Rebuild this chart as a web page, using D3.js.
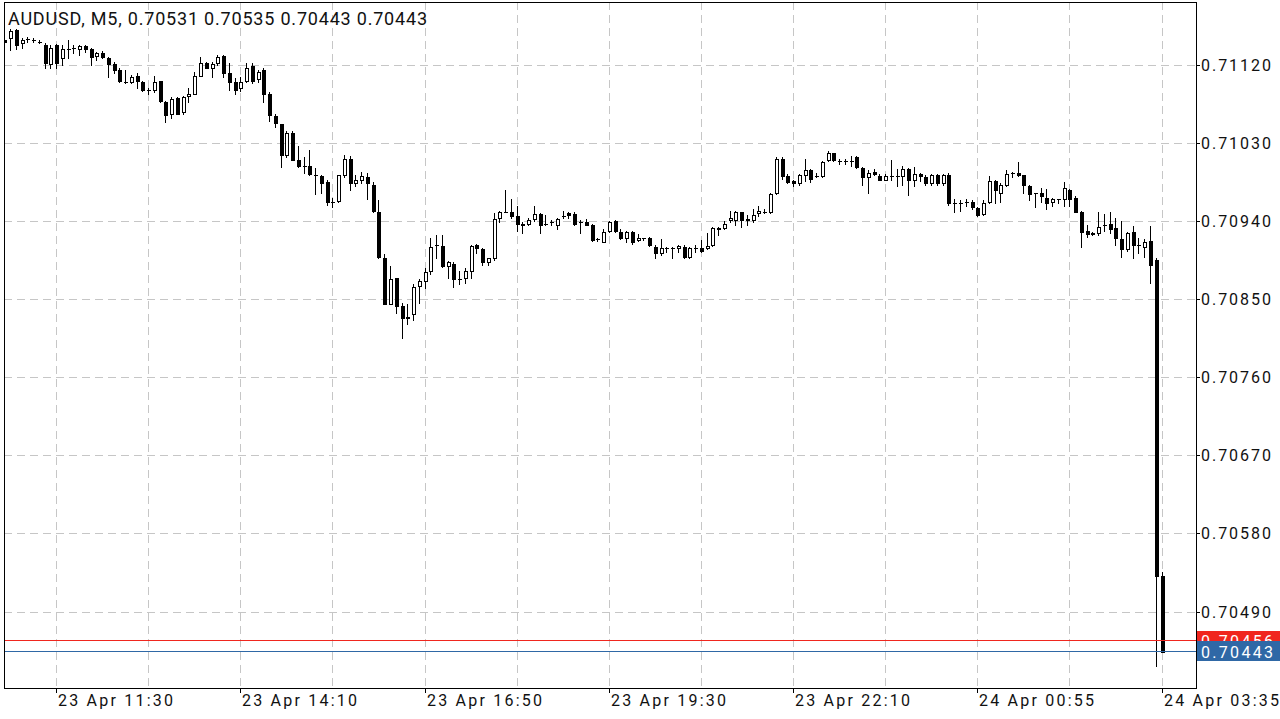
<!DOCTYPE html>
<html><head><meta charset="utf-8">
<script src="https://cdn.jsdelivr.net/npm/d3@7"></script>
<style>
html,body{margin:0;padding:0;background:#fff;}
svg{display:block;font-family:Roboto,"Noto Sans",sans-serif;}
</style>
</head><body>
<svg id="chart" width="1280" height="719"></svg>
<script>
// ---- data (M5 candles, AUDUSD) ----
const titleText = "AUDUSD, M5, 0.70531 0.70535 0.70443 0.70443";
const open = [
0.71149,0.71151,0.71160,0.71145,0.71150,0.71149,0.71147,0.71143,0.71121,0.71143,
0.71128,0.71139,0.71140,0.71138,0.71142,0.71139,0.71130,0.71134,0.71128,0.71121,
0.71114,0.71100,0.71100,0.71107,0.71100,0.71091,0.71091,0.71101,0.71077,0.71064,
0.71082,0.71066,0.71084,0.71087,0.71107,0.71122,0.71116,0.71122,0.71130,0.71111,
0.71100,0.71093,0.71101,0.71119,0.71104,0.71114,0.71087,0.71061,0.71052,0.71016,
0.71042,0.71010,0.71003,0.71003,0.70993,0.70992,0.70985,0.70962,0.70963,0.70993,
0.71012,0.70984,0.70988,0.70991,0.70982,0.70951,0.70898,0.70845,0.70874,0.70842,
0.70830,0.70833,0.70865,0.70871,0.70882,0.70912,0.70911,0.70888,0.70891,0.70873,
0.70874,0.70882,0.70913,0.70908,0.70893,0.70898,0.70944,0.70951,0.70950,0.70946,
0.70937,0.70937,0.70942,0.70948,0.70937,0.70939,0.70936,0.70946,0.70949,0.70948,
0.70939,0.70939,0.70935,0.70919,0.70916,0.70929,0.70940,0.70928,0.70921,0.70928,
0.70918,0.70920,0.70920,0.70910,0.70903,0.70909,0.70909,0.70909,0.70910,0.70899,
0.70909,0.70909,0.70909,0.70912,0.70932,0.70932,0.70941,0.70941,0.70950,0.70943,
0.70941,0.70949,0.70951,0.70950,0.70972,0.71012,0.70992,0.70986,0.70984,0.70993,
0.70999,0.70992,0.70992,0.71011,0.71018,0.71009,0.71009,0.71009,0.71014,0.71001,
0.70991,0.70997,0.70992,0.70988,0.70992,0.70992,0.70992,0.71000,0.70988,0.70994,
0.70991,0.70984,0.70993,0.70984,0.70993,0.70961,0.70961,0.70962,0.70962,0.70955,
0.70948,0.70962,0.70986,0.70973,0.70982,0.70995,0.70995,0.70993,0.70981,0.70972,
0.70973,0.70967,0.70962,0.70965,0.70966,0.70976,0.70967,0.70951,0.70929,0.70926,
0.70926,0.70935,0.70937,0.70932,0.70919,0.70908,0.70927,0.70912,0.70910,0.70917,
0.70895,0.70531];
const high = [
0.71151,0.71161,0.71161,0.71151,0.71152,0.71151,0.71149,0.71145,0.71143,0.71144,
0.71143,0.71149,0.71143,0.71143,0.71143,0.71140,0.71135,0.71136,0.71129,0.71123,
0.71117,0.71114,0.71108,0.71111,0.71101,0.71094,0.71107,0.71102,0.71078,0.71083,
0.71083,0.71084,0.71093,0.71112,0.71129,0.71124,0.71123,0.71131,0.71131,0.71122,
0.71105,0.71106,0.71122,0.71122,0.71114,0.71116,0.71089,0.71064,0.71052,0.71044,
0.71044,0.71027,0.71014,0.71022,0.71001,0.70993,0.70988,0.70967,0.70993,0.71016,
0.71015,0.70993,0.70997,0.70996,0.70985,0.70964,0.70902,0.70888,0.70875,0.70846,
0.70845,0.70867,0.70873,0.70886,0.70921,0.70924,0.70924,0.70894,0.70893,0.70883,
0.70886,0.70913,0.70914,0.70909,0.70898,0.70949,0.70952,0.70976,0.70965,0.70958,
0.70939,0.70944,0.70958,0.70949,0.70947,0.70941,0.70944,0.70952,0.70950,0.70950,
0.70941,0.70942,0.70937,0.70921,0.70931,0.70940,0.70941,0.70931,0.70929,0.70929,
0.70925,0.70921,0.70922,0.70912,0.70919,0.70910,0.70910,0.70913,0.70912,0.70910,
0.70912,0.70918,0.70926,0.70933,0.70933,0.70940,0.70952,0.70952,0.70951,0.70947,
0.70954,0.70957,0.70954,0.70972,0.71014,0.71014,0.70994,0.70988,0.70994,0.71012,
0.71000,0.70995,0.71009,0.71021,0.71019,0.71012,0.71012,0.71015,0.71015,0.71002,
0.70999,0.71000,0.70994,0.70994,0.71011,0.71000,0.71003,0.71001,0.71002,0.70995,
0.70993,0.70994,0.70994,0.70994,0.70995,0.70965,0.70964,0.70965,0.70964,0.70956,
0.70964,0.70992,0.70987,0.70984,0.70999,0.70997,0.71008,0.70993,0.70982,0.70973,
0.70978,0.70977,0.70967,0.70966,0.70985,0.70977,0.70969,0.70952,0.70935,0.70927,
0.70951,0.70948,0.70950,0.70944,0.70940,0.70927,0.70934,0.70921,0.70919,0.70934,
0.70897,0.70535];
const low = [
0.71144,0.71137,0.71139,0.71140,0.71147,0.71146,0.71145,0.71117,0.71117,0.71117,
0.71120,0.71128,0.71134,0.71131,0.71135,0.71120,0.71126,0.71128,0.71106,0.71111,
0.71100,0.71099,0.71099,0.71093,0.71090,0.71087,0.71089,0.71077,0.71054,0.71059,
0.71063,0.71064,0.71077,0.71086,0.71107,0.71116,0.71106,0.71120,0.71106,0.71091,
0.71086,0.71090,0.71100,0.71099,0.71100,0.71077,0.71056,0.71049,0.71002,0.71014,
0.71010,0.71002,0.70996,0.70993,0.70971,0.70973,0.70959,0.70956,0.70962,0.70991,
0.70976,0.70981,0.70984,0.70966,0.70950,0.70898,0.70844,0.70844,0.70834,0.70805,
0.70822,0.70826,0.70846,0.70863,0.70879,0.70898,0.70887,0.70874,0.70864,0.70868,
0.70869,0.70874,0.70903,0.70889,0.70889,0.70895,0.70939,0.70950,0.70944,0.70929,
0.70926,0.70935,0.70940,0.70926,0.70935,0.70936,0.70931,0.70944,0.70944,0.70936,
0.70926,0.70935,0.70917,0.70917,0.70916,0.70928,0.70928,0.70919,0.70916,0.70914,
0.70917,0.70918,0.70911,0.70898,0.70901,0.70905,0.70898,0.70904,0.70898,0.70898,
0.70905,0.70904,0.70908,0.70911,0.70924,0.70931,0.70939,0.70935,0.70933,0.70936,
0.70939,0.70946,0.70949,0.70949,0.70971,0.70989,0.70984,0.70981,0.70982,0.70986,
0.70985,0.70991,0.70991,0.71009,0.71009,0.71006,0.71006,0.71004,0.71001,0.70982,
0.70973,0.70993,0.70987,0.70987,0.70988,0.70981,0.70982,0.70970,0.70981,0.70986,
0.70982,0.70982,0.70982,0.70982,0.70959,0.70951,0.70952,0.70958,0.70954,0.70946,
0.70947,0.70961,0.70961,0.70962,0.70981,0.70991,0.70992,0.70972,0.70964,0.70956,
0.70962,0.70954,0.70957,0.70961,0.70958,0.70958,0.70950,0.70910,0.70922,0.70924,
0.70924,0.70929,0.70926,0.70912,0.70899,0.70906,0.70898,0.70903,0.70899,0.70869,
0.70427,0.70443];
const close = [
0.71147,0.71159,0.71143,0.71149,0.71150,0.71149,0.71147,0.71122,0.71140,0.71122,
0.71139,0.71139,0.71140,0.71142,0.71139,0.71129,0.71134,0.71129,0.71121,0.71114,
0.71101,0.71100,0.71106,0.71101,0.71091,0.71091,0.71100,0.71078,0.71062,0.71081,
0.71064,0.71083,0.71087,0.71107,0.71122,0.71117,0.71121,0.71129,0.71111,0.71100,
0.71091,0.71100,0.71117,0.71102,0.71112,0.71087,0.71062,0.71053,0.71016,0.71042,
0.71011,0.71003,0.71003,0.70994,0.70993,0.70984,0.70962,0.70962,0.70993,0.71012,
0.70984,0.70988,0.70992,0.70984,0.70952,0.70899,0.70844,0.70873,0.70842,0.70828,
0.70828,0.70864,0.70871,0.70881,0.70910,0.70912,0.70888,0.70893,0.70873,0.70873,
0.70882,0.70911,0.70909,0.70893,0.70897,0.70943,0.70950,0.70951,0.70946,0.70937,
0.70936,0.70941,0.70948,0.70936,0.70937,0.70939,0.70943,0.70946,0.70947,0.70937,
0.70939,0.70936,0.70918,0.70919,0.70928,0.70939,0.70929,0.70921,0.70928,0.70916,
0.70920,0.70920,0.70912,0.70903,0.70909,0.70909,0.70909,0.70911,0.70899,0.70909,
0.70909,0.70906,0.70911,0.70932,0.70931,0.70937,0.70944,0.70950,0.70941,0.70941,
0.70947,0.70952,0.70951,0.70971,0.71012,0.70992,0.70985,0.70984,0.70993,0.70999,
0.70989,0.70992,0.71008,0.71018,0.71010,0.71009,0.71009,0.71009,0.71002,0.70991,
0.70995,0.70994,0.70988,0.70992,0.70992,0.70992,0.71000,0.70988,0.70994,0.70992,
0.70984,0.70993,0.70984,0.70993,0.70961,0.70961,0.70961,0.70962,0.70956,0.70947,
0.70961,0.70986,0.70976,0.70982,0.70994,0.70995,0.70993,0.70982,0.70971,0.70972,
0.70969,0.70961,0.70966,0.70965,0.70978,0.70966,0.70951,0.70928,0.70925,0.70925,
0.70933,0.70935,0.70931,0.70920,0.70908,0.70926,0.70912,0.70912,0.70916,0.70889,
0.70531,0.70443];
const timeTickIndex = [9, 41, 73, 105, 137, 169, 201];
const timeTickLabels = ["23 Apr 11:30","23 Apr 14:10","23 Apr 16:50","23 Apr 19:30","23 Apr 22:10","24 Apr 00:55","24 Apr 03:35"];
const gridEvery = 16;
const priceTicks = [0.71120,0.71030,0.70940,0.70850,0.70760,0.70670,0.70580,0.70490];
const askPrice = 0.70456;
const bidPrice = 0.70443;

// ---- layout ----
const L = 4, R = 1196, T = 2, B = 688;
const svg = d3.select("#chart");
const n = close.length;
const x = d3.scaleLinear().domain([0, n - 1]).range([4.24, 1161.5]);
const y = d3.scaleLinear().domain([0.70490, 0.71120]).range([611.5, 65]);
const fmt = d3.format(".5f");
const px = v => Math.round(v) + 0.5;

svg.append("rect").attr("width",1280).attr("height",719).attr("fill","#fff");
svg.append("defs").append("clipPath").attr("id","plot")
  .append("rect").attr("x",L+1).attr("y",T+1).attr("width",R-L-1).attr("height",B-T-1);

// grid
const grid = svg.append("g").attr("clip-path","url(#plot)")
  .attr("stroke","#c6c6c6").attr("stroke-width",1).attr("stroke-dasharray","8,5");
grid.selectAll("line.h").data(priceTicks).join("line").attr("class","h")
  .attr("x1",L).attr("x2",R).attr("y1",d=>px(y(d))).attr("y2",d=>px(y(d)));
grid.selectAll("line.v").data(d3.range(timeTickIndex[0], n, gridEvery)).join("line").attr("class","v")
  .attr("y1",T).attr("y2",B).attr("x1",d=>px(x(d))).attr("x2",d=>px(x(d)));

// candles
const cg = svg.append("g").attr("clip-path","url(#plot)");
const idx = d3.range(n);
idx.forEach(i => {
  const cx = Math.round(x(i));
  const g = cg.append("g");
  g.append("line").attr("x1",cx+0.5).attr("x2",cx+0.5)
    .attr("y1",Math.round(y(high[i]))).attr("y2",Math.round(y(low[i]))+1)
    .attr("stroke","#000").attr("stroke-width",1);
  const top = Math.round(y(Math.max(open[i],close[i])));
  const bot = Math.round(y(Math.min(open[i],close[i])));
  if (bot - top < 2) {
    g.append("rect").attr("x",cx-1).attr("y",top).attr("width",4).attr("height",Math.max(1,bot-top+1)).attr("fill","#000");
  } else if (close[i] >= open[i]) {
    g.append("rect").attr("x",cx-0.5).attr("y",top+0.5).attr("width",3).attr("height",bot-top)
      .attr("fill","#fff").attr("stroke","#000").attr("stroke-width",1);
  } else {
    g.append("rect").attr("x",cx-1).attr("y",top).attr("width",4).attr("height",bot-top+1).attr("fill","#000");
  }
});

// ask / bid lines
svg.append("line").attr("x1",L).attr("x2",R).attr("y1",px(y(askPrice))-1).attr("y2",px(y(askPrice))-1)
  .attr("stroke","#f0261e").attr("stroke-width",1);
svg.append("line").attr("x1",L).attr("x2",R).attr("y1",px(y(bidPrice))-1).attr("y2",px(y(bidPrice))-1)
  .attr("stroke","#2f68a6").attr("stroke-width",1);

// frame
svg.append("rect").attr("x",L+0.5).attr("y",T+0.5).attr("width",R-L).attr("height",B-T)
  .attr("fill","none").attr("stroke","#000").attr("stroke-width",1);

// right price axis
const ya = svg.append("g");
priceTicks.forEach(p => {
  const yy = px(y(p));
  ya.append("line").attr("x1",R).attr("x2",R+4).attr("y1",yy).attr("y2",yy).attr("stroke","#000");
  ya.append("text").attr("x",1201).attr("y",yy+5.8).attr("font-size",16).attr("fill","#111")
    .attr("textLength",70).attr("lengthAdjust","spacing").text(fmt(p));
});

// ask / bid labels
const askY = Math.round(y(askPrice)) - 1;
const bidY = Math.round(y(bidPrice)) - 1;
svg.append("rect").attr("x",R+1).attr("y",askY-9).attr("width",1280-R-1).attr("height",20).attr("fill","#f0261e");
svg.append("text").attr("x",1201).attr("y",askY+6.5).attr("font-size",16).attr("fill","#fff")
  .attr("textLength",72).attr("lengthAdjust","spacing").text(fmt(askPrice));
svg.append("rect").attr("x",R+1).attr("y",bidY-10).attr("width",1280-R-1).attr("height",20).attr("fill","#2f68a6");
svg.append("text").attr("x",1201).attr("y",bidY+6.5).attr("font-size",16).attr("fill","#fff")
  .attr("textLength",72).attr("lengthAdjust","spacing").text(fmt(bidPrice));

// bottom time axis
const xa = svg.append("g");
timeTickIndex.forEach((ti,k) => {
  const xx = px(x(ti));
  xa.append("line").attr("x1",xx).attr("x2",xx).attr("y1",B).attr("y2",B+5).attr("stroke","#000");
  xa.append("text").attr("x",xx+1.5).attr("y",706).attr("font-size",16).attr("fill","#111")
    .attr("textLength",115).attr("lengthAdjust","spacing").text(timeTickLabels[k]);
});

// title
svg.append("text").attr("x",8).attr("y",25).attr("font-size",18).attr("fill","#111")
  .attr("textLength",419).attr("lengthAdjust","spacing").text(titleText);
</script>
</body></html>
